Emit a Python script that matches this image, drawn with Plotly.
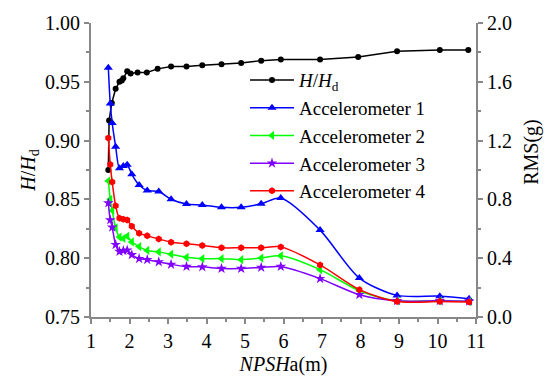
import plotly.graph_objects as go

# ---- data ----
npsh_h = [1.45, 1.47, 1.54, 1.64, 1.74, 1.80, 1.84, 1.94, 2.03, 2.21, 2.45, 2.73,
          3.08, 3.48, 3.89, 4.39, 4.90, 5.42, 5.93, 6.95, 7.94, 8.95, 10.06, 10.80]
h_ratio = [0.875, 0.917, 0.932, 0.944, 0.950, 0.951, 0.953, 0.959, 0.957, 0.958, 0.958, 0.961,
           0.963, 0.963, 0.964, 0.965, 0.966, 0.968, 0.969, 0.969, 0.971, 0.976, 0.977, 0.977]

npsh_acc = [1.45, 1.50, 1.55, 1.64, 1.74, 1.84, 1.94, 2.06, 2.25, 2.46, 2.76, 3.08,
            3.48, 3.89, 4.39, 4.90, 5.42, 5.93, 6.95, 7.97, 8.95, 10.06, 10.82]
acc1 = [1.696, 1.453, 1.320, 1.159, 1.012, 1.027, 1.036, 0.971, 0.898, 0.861, 0.854, 0.801,
        0.768, 0.762, 0.746, 0.746, 0.770, 0.809, 0.591, 0.265, 0.147, 0.142, 0.125]
acc2 = [0.926, 0.801, 0.725, 0.606, 0.544, 0.534, 0.550, 0.511, 0.479, 0.453, 0.443, 0.427,
        0.406, 0.397, 0.397, 0.390, 0.401, 0.416, 0.322, 0.179, 0.110, 0.110, 0.105]
acc3 = [0.775, 0.660, 0.610, 0.492, 0.445, 0.451, 0.455, 0.423, 0.397, 0.390, 0.375, 0.358,
        0.343, 0.341, 0.330, 0.330, 0.337, 0.343, 0.261, 0.152, 0.110, 0.110, 0.107]
acc4 = [1.217, 1.038, 0.919, 0.757, 0.671, 0.665, 0.660, 0.617, 0.570, 0.552, 0.531, 0.509,
        0.498, 0.487, 0.471, 0.471, 0.471, 0.477, 0.354, 0.186, 0.105, 0.105, 0.102]

x_ticks = [1, 2, 3, 4, 5, 6, 7, 8, 9, 10, 11]
y_ticks = [0.75, 0.80, 0.85, 0.90, 0.95, 1.00]
y2_ticks = [0.0, 0.4, 0.8, 1.2, 1.6, 2.0]

FONT = "Liberation Serif"
AX = "#888888"

fig = go.Figure()
fig.add_trace(go.Scatter(
    x=npsh_h, y=h_ratio, name="<i>H</i>/<i>H</i><sub>d</sub>", mode="lines+markers",
    line=dict(color="black", width=1.5), marker=dict(symbol="circle", size=6, color="black")))

acc_series = [
    ("Accelerometer 1", acc1, "#0000FF", "triangle-up", 8),
    ("Accelerometer 2", acc2, "#00FF00", "triangle-left", 8),
    ("Accelerometer 3", acc3, "#8000FF", "star", 8),
    ("Accelerometer 4", acc4, "#FF0000", "hexagon", 7),
]
for name, vals, col, sym, sz in acc_series:
    fig.add_trace(go.Scatter(
        x=npsh_acc, y=vals, name=name, yaxis="y2", mode="lines+markers",
        line=dict(color=col, width=1.5, shape="spline", smoothing=0.8),
        marker=dict(symbol=sym, size=sz, color=col)))

tick_font = dict(family=FONT, size=20, color="black")
fig.update_layout(
    width=545, height=384,
    margin=dict(l=91, r=69, t=18, b=56),
    paper_bgcolor="white", plot_bgcolor="white",
    font=dict(family=FONT, size=20, color="black"),
    showlegend=True,
    legend=dict(x=0.40, y=0.87, xanchor="left", yanchor="top", itemwidth=44,
                bgcolor="rgba(0,0,0,0)", font=dict(family=FONT, size=19, color="black")),
    xaxis=dict(range=[1, 11], tickvals=x_ticks, ticks="outside", ticklen=5, tickwidth=1.5,
               tickcolor=AX, showline=True, linecolor=AX, linewidth=2, showgrid=False,
               zeroline=False, tickfont=tick_font,
               minor=dict(dtick=0.5, ticks="outside", ticklen=3, tickcolor=AX, tickwidth=1.5),
               title=dict(text="<i>NPSH</i>a(m)", font=dict(family=FONT, size=20), standoff=6)),
    xaxis2=dict(range=[1, 11], overlaying="x", anchor="y", side="top", tickvals=x_ticks, ticks="inside",
                ticklen=5, tickwidth=1.5, tickcolor=AX, showline=True, linecolor=AX, linewidth=2,
                showgrid=False, zeroline=False, showticklabels=False,
                minor=dict(dtick=0.5, ticks="inside", ticklen=3, tickcolor=AX, tickwidth=1.5)),
    yaxis=dict(range=[0.75, 1.00], tickvals=y_ticks, tickformat=".2f", ticks="outside", ticklen=5,
               tickwidth=1.5, tickcolor=AX, showline=True, linecolor=AX, linewidth=2,
               showgrid=False, zeroline=False, tickfont=tick_font,
               minor=dict(dtick=0.025, ticks="outside", ticklen=3, tickcolor=AX, tickwidth=1.5),
               title=dict(text="<i>H</i>/<i>H</i><sub>d</sub>", font=dict(family=FONT, size=20),
                          standoff=4)),
    yaxis2=dict(range=[0, 2.0], overlaying="y", side="right", tickvals=y2_ticks, tickformat=".1f",
                ticks="outside", ticklen=5, tickwidth=1.5, tickcolor=AX, showline=True,
                linecolor=AX, linewidth=2, showgrid=False, zeroline=False, tickfont=tick_font,
                minor=dict(dtick=0.2, ticks="outside", ticklen=3, tickcolor=AX, tickwidth=1.5)),
    annotations=[dict(text="RMS(g)", xref="paper", yref="paper", x=1.0, xanchor="right", xshift=69,
                      y=0.56, yanchor="middle", textangle=-90, showarrow=False,
                      font=dict(family=FONT, size=20, color="black"))],
)

fig.write_html("out.html")
